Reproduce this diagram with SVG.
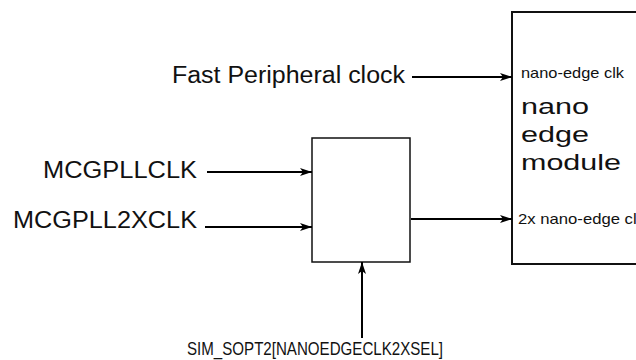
<svg xmlns="http://www.w3.org/2000/svg" width="636" height="360" viewBox="0 0 636 360">
<style>
.t{font-family:"Liberation Sans",Arial,sans-serif;fill:#111}
.big{font-size:23px}
.sm{font-size:15px}
.mod{font-size:22px}
.c{stroke:#000;stroke-width:2;fill:none;marker-end:url(#ah)}
.box{fill:#fff;stroke:#111}
</style>
<defs>
<marker id="ah" viewBox="0 0 12 8" refX="12" refY="4" markerWidth="12" markerHeight="8" markerUnits="userSpaceOnUse" orient="auto">
<path d="M0,0 L12,4 L0,8 L3,4 Z" fill="#000"/>
</marker>
</defs>
<g id="nano-edge-module">
<rect class="box" x="512" y="12" width="140" height="252" stroke-width="2"/>
<text class="t sm" x="521" y="78" textLength="103" lengthAdjust="spacingAndGlyphs">nano-edge clk</text>
<text class="t mod" x="521" y="114" textLength="68" lengthAdjust="spacingAndGlyphs">nano</text>
<text class="t mod" x="521" y="142" textLength="68" lengthAdjust="spacingAndGlyphs">edge</text>
<text class="t mod" x="521" y="170" textLength="100" lengthAdjust="spacingAndGlyphs">module</text>
<text class="t sm" x="518" y="224" textLength="127" lengthAdjust="spacingAndGlyphs">2x nano-edge clk</text>
</g>
<g id="mux">
<rect class="box" x="312" y="138" width="98" height="124" stroke-width="1.5"/>
</g>
<g id="labels">
<text class="t big" x="172" y="83" textLength="233" lengthAdjust="spacingAndGlyphs">Fast Peripheral clock</text>
<text class="t big" x="43" y="178" textLength="154" lengthAdjust="spacingAndGlyphs">MCGPLLCLK</text>
<text class="t big" x="13" y="228" textLength="184" lengthAdjust="spacingAndGlyphs">MCGPLL2XCLK</text>
<text class="t" style="font-size:19px" x="187" y="355" textLength="256" lengthAdjust="spacingAndGlyphs">SIM_SOPT2[NANOEDGECLK2XSEL]</text>
</g>
<g id="connectors">
<line class="c" x1="412" y1="77" x2="512" y2="77"/>
<line class="c" x1="207" y1="172" x2="312" y2="172"/>
<line class="c" x1="205" y1="227" x2="312" y2="227"/>
<line class="c" x1="411" y1="219" x2="512" y2="219"/>
<line class="c" x1="362" y1="338" x2="362" y2="262"/>
</g>
</svg>
